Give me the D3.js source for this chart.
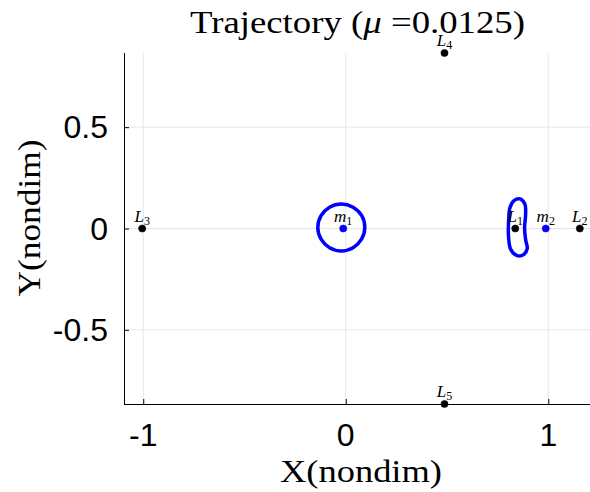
<!DOCTYPE html>
<meta charset='utf-8'>
<head>
    <title>Trajectory</title>
    <script src='https://cdn.jsdelivr.net/npm/d3@7'></script>
</head>

<style>
    body { margin: 0; background: white; }
    .grid line { stroke: #e6e6e6; stroke-width: 1px; }
    .tick-lbl { font-family: 'Liberation Sans', Arial, sans-serif; font-size: 32px; fill: black; }
    .serif { font-family: 'Liberation Serif', 'Times New Roman', serif; fill: black; }
    .pt-lbl { font-family: 'Liberation Serif', serif; font-style: italic; font-size: 17px; }
</style>

<svg></svg>

<script>
    var vWidth = 590;
    var vHeight = 492;

    // Lagrange points and primaries (nondim, rotating frame)
    var lagName = ['L', 'L', 'L', 'L', 'L'];
    var lagSub = ['1', '2', '3', '4', '5'];
    var lagX = [0.8369, 1.1557, -1.0052, 0.4875, 0.4875];
    var lagY = [0, 0, 0, 0.866, -0.866];

    var massName = ['m', 'm'];
    var massSub = ['1', '2'];
    var massX = [-0.0125, 0.9875];
    var massY = [0, 0];

    // orbit around m1
    var orbit1X = [0.094, 0.079, 0.036, -0.022, -0.080, -0.122, -0.138, -0.122, -0.080, -0.022, 0.036, 0.078];
    var orbit1Y = [0.005, 0.063, 0.105, 0.121, 0.105, 0.063, 0.005, -0.053, -0.095, -0.111, -0.095, -0.053];

    // orbit near L1
    var orbit2X = [0.861, 0.885, 0.888, 0.883, 0.888, 0.896, 0.878, 0.846, 0.815, 0.804, 0.804, 0.811, 0.831];
    var orbit2Y = [0.146, 0.119, 0.069, 0.005, -0.054, -0.099, -0.129, -0.134, -0.104, -0.044, 0.035, 0.104, 0.138];

    var xTicks = [-1, 0, 1];
    var yTicks = [-0.5, 0, 0.5];
    var yTickLabels = ['-0.5', '0', '0.5'];

    var svg = d3.select('svg').attr('width', vWidth).attr('height', vHeight);

    var pLeft = 124, pRight = 590, pTop = 53, pBottom = 404;
    var x = d3.scaleLinear().domain([-1.095, 1.206]).range([pLeft, pRight]);
    var y = d3.scaleLinear().domain([-0.866, 0.866]).range([pBottom, pTop]);

    // grid
    var grid = svg.append('g').attr('class', 'grid');
    grid.selectAll(null).data(xTicks).enter().append('line')
        .attr('x1', function(d) { return x(d); }).attr('x2', function(d) { return x(d); })
        .attr('y1', pTop).attr('y2', pBottom);
    grid.selectAll(null).data(yTicks).enter().append('line')
        .attr('y1', function(d) { return y(d); }).attr('y2', function(d) { return y(d); })
        .attr('x1', pLeft).attr('x2', pRight);

    // axes
    var xAxis = d3.axisBottom(x).tickValues(xTicks).tickSize(-5).tickFormat('');
    var yAxis = d3.axisLeft(y).tickValues(yTicks).tickSize(-5).tickFormat('');
    svg.append('g').attr('transform', 'translate(0,' + pBottom + ')').call(xAxis)
        .call(function(g) { g.select('.domain').attr('d', 'M' + pLeft + ',0.5H' + pRight); });
    svg.append('g').attr('transform', 'translate(' + pLeft + ',0)').call(yAxis)
        .call(function(g) { g.select('.domain').attr('d', 'M0.5,' + pTop + 'V' + pBottom); });

    svg.selectAll(null).data(xTicks).enter().append('text')
        .attr('class', 'tick-lbl')
        .attr('x', function(d) { return x(d); }).attr('y', 446)
        .attr('text-anchor', 'middle')
        .text(function(d) { return String(d); });
    svg.selectAll(null).data(yTicks).enter().append('text')
        .attr('class', 'tick-lbl')
        .attr('x', 108).attr('y', function(d) { return y(d) + 11; })
        .attr('text-anchor', 'end')
        .text(function(d, i) { return yTickLabels[i]; });

    // trajectory
    var line = d3.line()
        .x(function(d) { return x(d[0]); })
        .y(function(d) { return y(d[1]); })
        .curve(d3.curveCatmullRomClosed);
    [[orbit1X, orbit1Y], [orbit2X, orbit2Y]].forEach(function(o) {
        svg.append('path')
            .datum(d3.zip(o[0], o[1]))
            .attr('d', line)
            .attr('fill', 'none')
            .attr('stroke', '#0000ff')
            .attr('stroke-width', 3.5);
    });

    // points
    function drawPoints(xs, ys, names, subs, color) {
        var pts = d3.zip(xs, ys, names, subs);
        svg.selectAll(null).data(pts).enter().append('circle')
            .attr('cx', function(d) { return x(d[0]); })
            .attr('cy', function(d) { return y(d[1]); })
            .attr('r', 3.6)
            .attr('fill', color)
            .attr('stroke', color)
            .attr('stroke-width', 0.5);
        var t = svg.selectAll(null).data(pts).enter().append('text')
            .attr('class', 'pt-lbl')
            .attr('x', function(d) { return x(d[0]); })
            .attr('y', function(d) { return y(d[1]) - 7; })
            .attr('text-anchor', 'middle');
        t.append('tspan').text(function(d) { return d[2]; });
        t.append('tspan').attr('dy', 3).attr('font-size', '12px').attr('font-style', 'normal')
            .text(function(d) { return d[3]; });
    }
    drawPoints(lagX, lagY, lagName, lagSub, 'black');
    drawPoints(massX, massY, massName, massSub, '#0000ff');

    // title and labels
    var title = svg.append('text').attr('class', 'serif')
        .attr('x', 357.5).attr('y', 33).attr('text-anchor', 'middle')
        .attr('font-size', '31px')
        .attr('textLength', 335).attr('lengthAdjust', 'spacingAndGlyphs');
    title.append('tspan').text('Trajectory (');
    title.append('tspan').attr('font-style', 'italic').text('μ');
    title.append('tspan').text(' =0.0125)');

    svg.append('text').attr('class', 'serif')
        .attr('x', 361).attr('y', 482).attr('text-anchor', 'middle')
        .attr('font-size', '31px')
        .attr('textLength', 162).attr('lengthAdjust', 'spacingAndGlyphs')
        .text('X(nondim)');
    svg.append('text').attr('class', 'serif')
        .attr('transform', 'translate(40,218) rotate(-90)')
        .attr('text-anchor', 'middle')
        .attr('font-size', '31px')
        .attr('textLength', 157).attr('lengthAdjust', 'spacingAndGlyphs')
        .text('Y(nondim)');
</script>
